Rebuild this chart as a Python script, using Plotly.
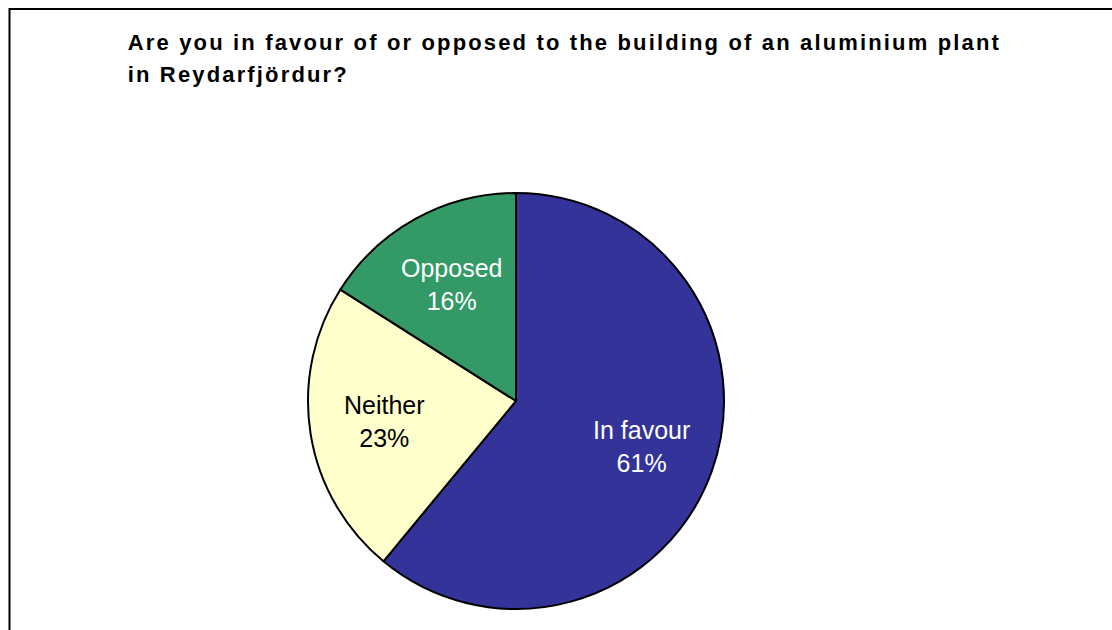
import math
import plotly.graph_objects as go

# Survey responses (percent of respondents)
labels = ["In favour", "Neither", "Opposed"]
values = [61, 23, 16]
colors = ["#333399", "#FFFFCC", "#339966"]
text_colors = ["#FFFFFF", "#000000", "#FFFFFF"]

title_lines = [
    "Are you in favour of or opposed to the building of an aluminium plant",
    "in Reydarfjördur?",
]

W, H = 1112, 630
FONT = "Liberation Sans, Arial, sans-serif"

# pie geometry in pixels
cx, cy, r = 516, 401, 208
label_frac = 0.64
title_size = 22
title_spacing = 2.15  # px of letter spacing in the title

fig = go.Figure(
    go.Pie(
        labels=labels,
        values=values,
        sort=False,
        direction="clockwise",
        rotation=0,
        marker=dict(colors=colors, line=dict(color="#000000", width=2)),
        textinfo="none",
        hoverinfo="label+percent",
        showlegend=False,
        domain=dict(
            x=[(cx - r) / W, (cx + r) / W],
            y=[1 - (cy + r) / H, 1 - (cy - r) / H],
        ),
    )
)

# title lines, placed separately for wider line spacing
title_tops = [28, 60]
for line, top in zip(title_lines, title_tops):
    # text is centred in its box, so letter spacing added later grows both ways
    shift = len(line) * title_spacing / 2
    fig.add_annotation(
        text=line,
        xref="paper", yref="paper",
        x=(126 + shift) / W, y=1 - top / H,
        xanchor="left", yanchor="top",
        showarrow=False,
        font=dict(family=FONT, size=title_size, color="#000000", weight="bold"),
    )

# slice labels along each slice's bisector (clockwise from 12 o'clock)
total = sum(values)
cum = 0
for lab, val, tc in zip(labels, values, text_colors):
    mid = (cum + val / 2) / total * 2 * math.pi
    cum += val
    px = cx + label_frac * r * math.sin(mid)
    py = cy - label_frac * r * math.cos(mid)
    fig.add_annotation(
        text=f"{lab}<br>{round(val / total * 100)}%",
        xref="paper", yref="paper",
        x=px / W, y=1 - py / H,
        xanchor="center", yanchor="middle",
        showarrow=False,
        font=dict(family=FONT, size=25, color=tc),
    )

# chart frame
fig.add_shape(
    type="rect", xref="paper", yref="paper",
    x0=9.5 / W, x1=1.2, y0=-0.2, y1=1 - 9 / H,
    line=dict(color="#000000", width=2),
    fillcolor="rgba(0,0,0,0)",
    layer="below",
)

fig.update_layout(
    width=W, height=H,
    margin=dict(l=0, r=0, t=0, b=0),
    paper_bgcolor="#FFFFFF",
    plot_bgcolor="#FFFFFF",
)

spacing_js = """
document.querySelectorAll(
    '.annotation[data-index="0"] .annotation-text, .annotation[data-index="1"] .annotation-text'
).forEach(function (t) {
    t.style.letterSpacing = '%spx';
});
""" % title_spacing

fig.write_html("out.html", post_script=spacing_js)
